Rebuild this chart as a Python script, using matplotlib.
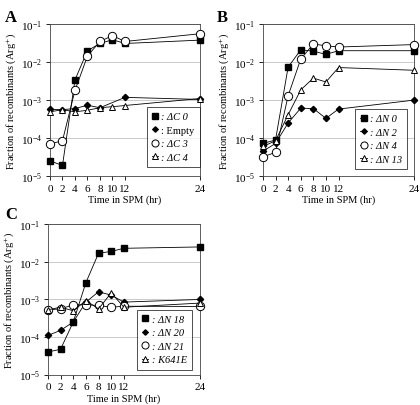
import numpy as np
import matplotlib.pyplot as plt

plt.rcParams['font.family'] = ['Liberation Serif', 'DejaVu Serif']
plt.rcParams['mathtext.fontset'] = 'stix'

hours = [0, 2, 4, 6, 8, 10, 12, 24]
hours_empty = [0, 2, 4, 6, 8, 12, 24]

# panel A
dc0 = [2.5e-5, 1.9e-5, 3.4e-3, 2.0e-2, 3.1e-2, 3.9e-2, 3.1e-2, 3.8e-2]
empty = [5.7e-4, 5.6e-4, 6.0e-4, 7.3e-4, 6.3e-4, 1.18e-3, 1.04e-3]
dc3 = [7.0e-5, 8.5e-5, 1.8e-3, 1.45e-2, 3.5e-2, 5.0e-2, 3.5e-2, 5.6e-2]
dc4 = [4.9e-4, 5.6e-4, 4.9e-4, 5.4e-4, 6.3e-4, 6.7e-4, 7.2e-4, 1.1e-3]

# panel B
dn0 = [7.2e-5, 8.9e-5, 7.4e-3, 2.1e-2, 1.95e-2, 1.6e-2, 2.0e-2, 2.0e-2]
dn2 = [4.5e-5, 7.2e-5, 2.5e-4, 6.1e-4, 6.0e-4, 3.3e-4, 5.8e-4, 1.0e-3]
dn4 = [3.2e-5, 4.2e-5, 1.3e-3, 1.2e-2, 3.0e-2, 2.7e-2, 2.5e-2, 2.9e-2]
dn13 = [6.0e-5, 8.5e-5, 4.1e-4, 1.85e-3, 3.8e-3, 3.0e-3, 7.2e-3, 6.1e-3]

# panel C
dn18 = [4.0e-5, 4.7e-5, 2.5e-4, 2.8e-3, 1.7e-2, 1.9e-2, 2.3e-2, 2.5e-2]
dn20 = [1.1e-4, 1.5e-4, 2.5e-4, 8.5e-4, 1.6e-3, 1.3e-3, 8.5e-4, 1.0e-3]
dn21 = [5.3e-4, 5.6e-4, 7.2e-4, 7.2e-4, 6.9e-4, 6.2e-4, 6.6e-4, 6.5e-4]
k641e = [5.3e-4, 6.2e-4, 5.0e-4, 9.3e-4, 5.6e-4, 1.5e-3, 6.2e-4, 8.0e-4]

xticks = [0, 2, 4, 6, 8, 10, 12, 24]

styles = [
    dict(marker='s', ms=5, mfc='black', mec='black'),
    dict(marker='D', ms=3.2, mfc='black', mec='black'),
    dict(marker='o', ms=6, mfc='white', mec='black', mew=0.7),
    dict(marker='^', ms=4.5, mfc='white', mec='black', mew=0.7),
]


def draw_panel(ax, series, labels, plain, legend_anchor):
    for (x, y), st, lab in zip(series, styles, labels):
        ax.plot(x, y, color='black', lw=0.6, label=lab, clip_on=False, zorder=3, **st)
    ax.set_yscale('log')
    ax.set_ylim(1e-5, 1e-1)
    ax.set_xlim(0, 24)
    ax.set_xticks(xticks)
    ax.yaxis.set_minor_locator(plt.NullLocator())
    ax.grid(True, axis='y', color='#c0c0c0', lw=0.6)
    ax.tick_params(direction='out', labelsize=8, length=3, width=0.6, pad=2.5)
    for s in ax.spines.values():
        s.set_linewidth(0.6)
        s.set_color('#444444')
    ax.set_xlabel('Time in SPM (hr)', fontsize=7.5, labelpad=1.5)
    ax.set_ylabel('Fraction of recombinants (Arg$^{+}$)', fontsize=7.5, labelpad=2)
    leg = ax.legend(loc='lower right', bbox_to_anchor=legend_anchor, fontsize=7.5,
                    frameon=True, fancybox=False, edgecolor='black', borderaxespad=0,
                    handlelength=0.6, handletextpad=0.3, labelspacing=0.4,
                    borderpad=0.5, markerscale=0.85)
    leg.get_frame().set_linewidth(0.6)
    leg.set_zorder(5)
    for t in leg.get_texts():
        if t.get_text() not in plain:
            t.set_style('italic')


fig = plt.figure(figsize=(4.2, 4.06), dpi=100)
axA = fig.add_axes([0.119, 0.564, 0.357, 0.374])
axB = fig.add_axes([0.626, 0.564, 0.36, 0.374])
axC = fig.add_axes([0.114, 0.075, 0.362, 0.37])

draw_panel(axA, [(hours, dc0), (hours_empty, empty), (hours, dc3), (hours, dc4)],
           [': ΔC 0', ': Empty', ': ΔC 3', ': ΔC 4'], [': Empty'], (1.0, 0.06))
draw_panel(axB, [(hours, dn0), (hours, dn2), (hours, dn4), (hours, dn13)],
           [': ΔN 0', ': ΔN 2', ': ΔN 4', ': ΔN 13'], [], (0.954, 0.046))
draw_panel(axC, [(hours, dn18), (hours, dn20), (hours, dn21), (hours, k641e)],
           [': ΔN 18', ': ΔN 20', ': ΔN 21', ': K641E'], [], (0.947, 0.033))

fig.text(0.012, 0.975, 'A', fontsize=12, fontweight='bold', va='top')
fig.text(0.515, 0.975, 'B', fontsize=12, fontweight='bold', va='top')
fig.text(0.012, 0.49, 'C', fontsize=12, fontweight='bold', va='top')

fig.savefig('out.png', dpi=100)
